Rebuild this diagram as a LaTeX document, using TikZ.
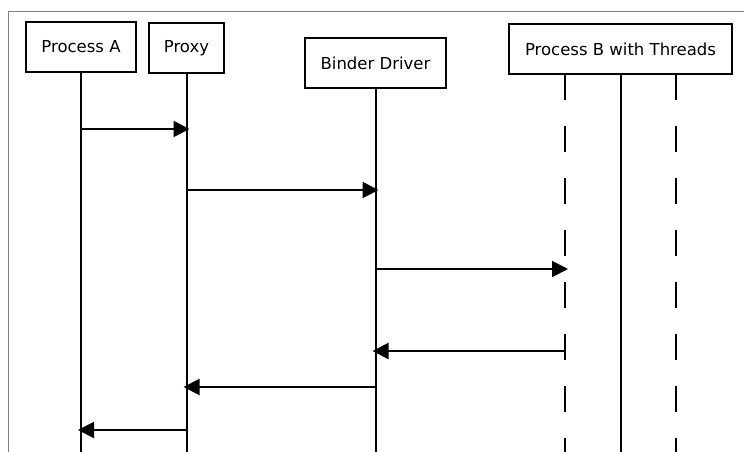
\documentclass[tikz,border=0pt]{standalone}
\usepackage{fontspec}
\setmainfont{DejaVu Sans}
\usetikzlibrary{arrows.meta}
\tikzset{
  actor/.style={draw, line width=2pt, minimum height=50pt, inner sep=0pt,
    font=\fontsize{16.5}{19}\selectfont},
  life/.style={line width=2pt},
  thread/.style={life, dash pattern=on 26pt off 26pt},
  msg/.style={line width=2pt, -{Triangle[length=16pt,width=16pt]}, shorten >=-3pt}
}
\begin{document}
\begin{tikzpicture}[x=1pt,y=-1pt]
  \useasboundingbox (0,0) rectangle (744,452);
  \draw[gray, line width=1pt] (8,452) -- (8,12) -- (744,12);
  % participants
  \node[actor, minimum width=110pt] (pa) at (81,47) {Process A};
  \node[actor, minimum width=75pt] (px) at (186.5,48) {Proxy};
  \node[actor, minimum width=141pt] (bd) at (375.5,63) {Binder Driver};
  \node[actor, minimum width=223pt] (pb) at (620.5,49) {Process B with Threads};
  % lifelines
  \path (pa.south |- 0,452) coordinate (paE)
    (px.south |- 0,452) coordinate (pxE)
    (bd.south |- 0,452) coordinate (bdE)
    (pb.south |- 0,452) coordinate (pbE)
    (565,74) coordinate (t1) (565,452) coordinate (t1E)
    (676,74) coordinate (t2) (676,452) coordinate (t2E);
  \draw[life] (pa.south) -- (paE);
  \draw[life] (px.south) -- (pxE);
  \draw[life] (bd.south) -- (bdE);
  \draw[life] (pb.south) -- (pbE);
  \draw[thread] (t1) -- (t1E);
  \draw[thread] (t2) -- (t2E);
  % messages
  \draw[msg] (pa.south |- 0,129) coordinate (m1) -- (m1 -| px.south);
  \draw[msg] (px.south |- 0,190) coordinate (m2) -- (m2 -| bd.south);
  \draw[msg] (bd.south |- 0,269) coordinate (m3) -- (m3 -| t1);
  \draw[msg] (t1 |- 0,351) coordinate (m4) -- (m4 -| bd.south);
  \draw[msg] (bd.south |- 0,387) coordinate (m5) -- (m5 -| px.south);
  \draw[msg] (px.south |- 0,430) coordinate (m6) -- (m6 -| pa.south);
\end{tikzpicture}
\end{document}
